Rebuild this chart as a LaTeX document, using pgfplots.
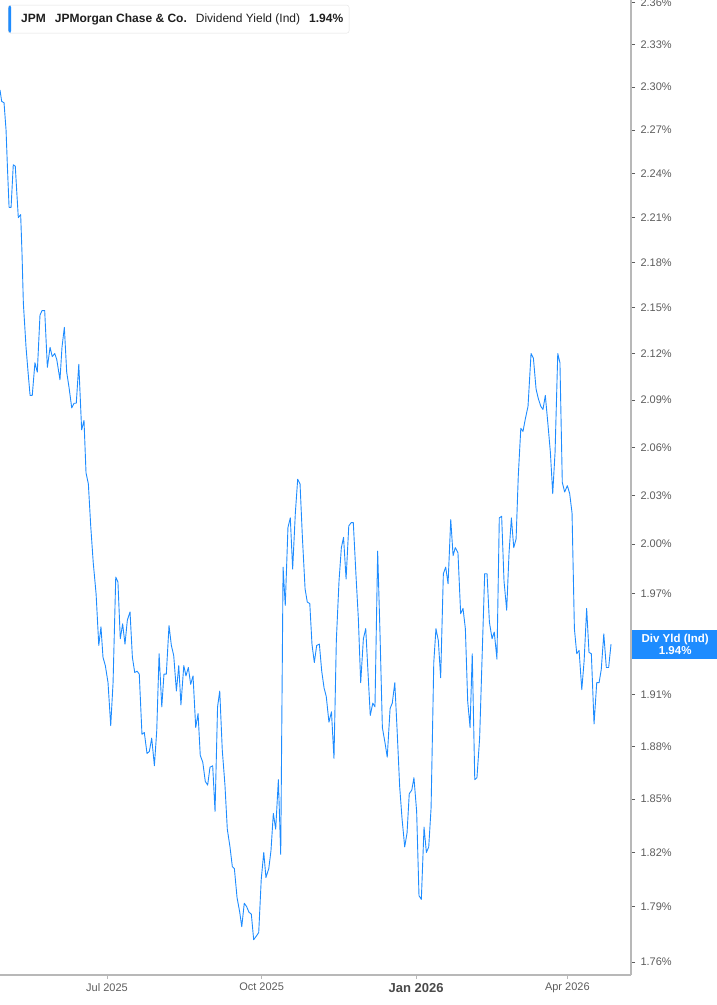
\documentclass[border=0pt]{standalone}
\usepackage{fontspec}
\setmainfont{Liberation Sans}
\usepackage{pgfplots}
\usepackage{pgfplotstable}
\pgfplotsset{compat=1.18}

\definecolor{jpmblue}{HTML}{1E8CFF}
\definecolor{axisgray}{HTML}{B8B8B8}
\definecolor{ticktext}{HTML}{5C5C5C}
\definecolor{boxtext}{HTML}{1F1F1F}

% day = days since 1 Jul 2025, yield in %
\pgfplotstableread{
day yield
-63.7 2.298
-62.7 2.290
-61.3 2.289
-60.1 2.270
-59.3 2.245
-58.3 2.217
-57.1 2.217
-55.8 2.246
-54.6 2.245
-53.8 2.229
-52.8 2.210
-51.4 2.212
-50.6 2.186
-49.8 2.153
-48.2 2.124
-47.0 2.108
-45.8 2.093
-44.5 2.093
-42.9 2.114
-41.5 2.108
-39.9 2.145
-38.7 2.148
-37.1 2.148
-35.5 2.111
-33.9 2.124
-32.6 2.118
-31.1 2.120
-29.9 2.116
-28.0 2.103
-26.8 2.124
-25.4 2.137
-24.0 2.108
-22.6 2.098
-21.0 2.085
-19.6 2.088
-18.3 2.088
-16.8 2.113
-15.1 2.071
-13.7 2.077
-12.5 2.044
-11.1 2.037
-9.7 2.011
-8.2 1.989
-6.5 1.970
-4.9 1.939
-3.6 1.950
-2.4 1.932
-1.0 1.927
0.6 1.917
2.2 1.892
3.6 1.917
5.2 1.980
6.5 1.977
7.9 1.943
9.3 1.952
10.7 1.940
12.1 1.954
13.7 1.959
15.1 1.932
16.5 1.923
17.9 1.924
19.2 1.922
20.8 1.887
22.2 1.888
23.8 1.876
25.2 1.877
26.6 1.885
28.2 1.869
29.6 1.889
31.0 1.934
32.6 1.903
33.9 1.922
35.3 1.922
36.9 1.951
38.3 1.939
39.7 1.933
41.3 1.912
42.7 1.927
44.0 1.904
45.7 1.927
47.0 1.921
48.4 1.926
49.8 1.916
51.2 1.921
52.8 1.891
54.2 1.899
55.5 1.875
57.0 1.871
58.5 1.860
59.9 1.858
61.3 1.868
62.9 1.869
64.3 1.843
65.8 1.903
67.1 1.912
68.6 1.878
70.2 1.858
71.6 1.833
73.2 1.823
74.6 1.812
75.8 1.811
77.4 1.795
79.0 1.787
80.2 1.779
81.7 1.792
83.1 1.790
84.5 1.787
85.9 1.786
87.3 1.772
88.9 1.774
90.3 1.776
91.8 1.805
93.3 1.820
94.6 1.806
96.3 1.811
97.6 1.821
99.0 1.842
100.4 1.833
102.0 1.861
103.4 1.819
104.8 1.986
106.1 1.963
107.7 2.010
109.1 2.016
110.5 1.985
112.1 2.019
113.5 2.040
114.9 2.037
116.3 2.004
117.9 1.973
119.2 1.965
120.7 1.964
122.0 1.940
123.4 1.929
124.8 1.939
126.4 1.940
127.8 1.924
129.2 1.914
130.5 1.909
132.1 1.894
133.6 1.900
135.1 1.873
136.5 1.942
138.1 1.978
139.5 1.998
140.8 2.004
142.3 1.979
143.9 2.011
145.3 2.013
146.6 2.013
148.2 1.981
149.6 1.955
151.0 1.917
152.6 1.943
154.0 1.949
155.4 1.922
156.7 1.898
158.2 1.905
159.5 1.903
161.1 1.996
162.5 1.946
163.9 1.891
165.5 1.882
166.8 1.874
168.5 1.902
169.8 1.905
171.3 1.917
172.6 1.891
174.2 1.857
175.6 1.839
177.2 1.823
178.6 1.831
179.9 1.853
181.4 1.855
182.7 1.862
184.3 1.843
185.7 1.796
187.1 1.794
188.7 1.834
190.1 1.820
191.5 1.823
192.9 1.845
194.5 1.929
195.8 1.949
197.2 1.942
198.6 1.920
200.2 1.982
201.6 1.986
203.0 1.976
204.6 2.015
206.0 1.993
207.3 1.998
208.9 1.995
210.5 1.958
211.9 1.961
213.3 1.949
214.7 1.906
216.1 1.891
217.4 1.934
218.9 1.861
220.2 1.862
221.8 1.885
223.2 1.930
224.8 1.982
226.2 1.982
227.6 1.953
229.2 1.943
230.5 1.947
232.1 1.931
233.5 2.016
234.9 2.017
236.3 1.978
237.9 1.960
239.3 1.995
240.7 2.016
242.1 1.998
243.5 2.003
244.8 2.042
246.3 2.072
247.6 2.070
249.0 2.078
250.6 2.086
252.4 2.120
253.8 2.117
255.4 2.097
256.7 2.091
258.2 2.086
259.5 2.084
260.9 2.093
262.5 2.074
263.9 2.057
265.3 2.031
266.7 2.057
268.3 2.120
269.6 2.114
271.0 2.038
272.4 2.032
274.0 2.036
275.4 2.031
276.8 2.019
278.2 1.949
279.6 1.934
281.0 1.936
282.6 1.913
284.0 1.930
285.5 1.961
286.9 1.935
288.3 1.934
289.9 1.893
291.5 1.917
292.9 1.917
294.2 1.925
295.7 1.946
297.2 1.926
298.6 1.926
300.0 1.940
}\divyield

\begin{document}
\begin{tikzpicture}
\useasboundingbox (0,-30pt) rectangle (717pt,975pt);
\begin{axis}[
  at={(0,0)}, anchor=south west,
  scale only axis, width=631pt, height=975pt,
  clip=false,
  ymode=log, ymin=1.753, ymax=2.3622,
  xmin=-63.7, xmax=311.9,
  axis x line*=bottom, axis y line*=right,
  axis line style={axisgray, line width=1.6pt},
  yminorticks=false,
  ytick={1.76,1.79,1.82,1.85,1.88,1.91,1.94,1.97,2.00,2.03,2.06,2.09,2.12,2.15,2.18,2.21,2.24,2.27,2.30,2.33,2.36},
  % the 1.94% label sits under the last-value box
  yticklabels={1.76\%,1.79\%,1.82\%,1.85\%,1.88\%,1.91\%,{},1.97\%,2.00\%,2.03\%,2.06\%,2.09\%,2.12\%,2.15\%,2.18\%,2.21\%,2.24\%,2.27\%,2.30\%,2.33\%,2.36\%},
  xtick={0,92,184,274},
  xticklabels={Jul 2025,Oct 2025,{\bfseries\color{ticktext!80!black}\fontsize{13}{15}\selectfont Jan 2026},Apr 2026},
  tick align=outside,
  major tick length=4pt,
  y tick style={ticktext, line width=1pt},
  x tick style={axisgray, line width=1pt},
  tick label style={font=\fontsize{11}{13}\selectfont, text=ticktext},
  yticklabel style={xshift=2pt},
  xticklabel style={yshift=-1pt},
  /pgf/number format/assume math mode=true,
]
\addplot[jpmblue, line width=0.9pt, line join=round] table[x=day, y=yield] {\divyield};

\node[draw=black!12, fill=white, rounded corners=2.5pt, anchor=north west,
  minimum height=28pt, inner xsep=6pt, inner ysep=0pt, text=boxtext,
  font=\fontsize{12}{14}\selectfont,
  path picture={\fill[jpmblue] (path picture bounding box.south west) rectangle ([xshift=3pt]path picture bounding box.north west);}]
  at ([xshift=8pt,yshift=-5pt]rel axis cs:0,1)
  {\hspace{7pt}\textbf{JPM}\hspace{9pt}\textbf{JPMorgan Chase \& Co.}\hspace{9pt}Dividend Yield (Ind)\hspace{9pt}\textbf{1.94\%}};

\node[fill=jpmblue, text=white, anchor=west, minimum width=86pt, minimum height=29pt,
  inner sep=1pt, align=center, font=\bfseries\fontsize{11.5}{12}\selectfont]
  at ([xshift=1pt]axis cs:311.9,1.94) {Div Yld (Ind)\\1.94\%};
\end{axis}
\end{tikzpicture}
\end{document}
